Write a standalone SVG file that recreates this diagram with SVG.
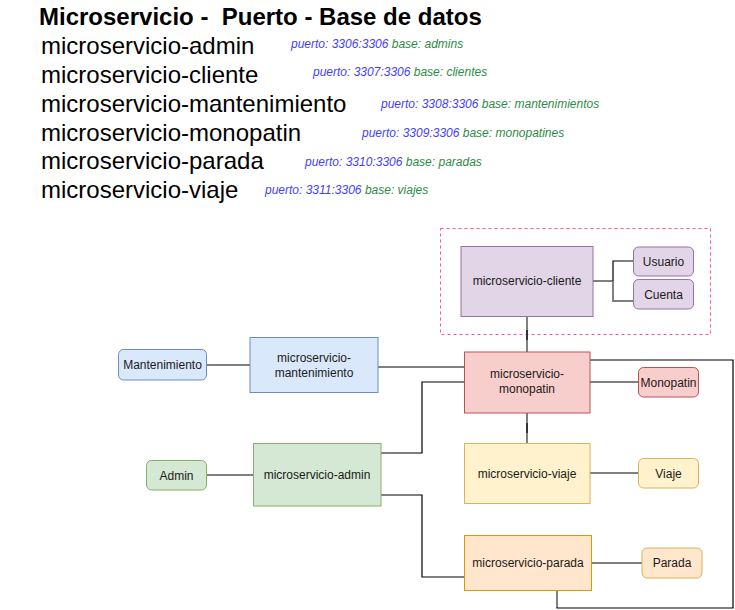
<svg xmlns="http://www.w3.org/2000/svg" width="735" height="610" viewBox="0 0 735 610">
<style>
  text { font-family: "Liberation Sans", Arial, Helvetica, sans-serif; }
  .title { font-size: 24px; font-weight: bold; fill: #000; white-space: pre; }
  .item { font-size: 24px; fill: #000; }
  .note { font-size: 12px; font-style: italic; }
  .pt { fill: #3f3fff; }
  .db { fill: #2e8b46; }
  .lbl { font-size: 12px; fill: #1a1a1a; text-anchor: middle; }
  .ent { font-size: 12px; fill: #1a1a1a; text-anchor: middle; }
  .gray { fill: none; stroke: #808080; stroke-width: 2; }
  .blk { fill: none; stroke: #000; stroke-width: 1.2; }
</style>
<rect width="735" height="610" fill="#ffffff"/>

<g id="legend">
  <text class="title" x="39" y="25" xml:space="preserve">Microservicio -  Puerto - Base de datos</text>
  <text class="item" x="41" y="54">microservicio-admin</text>
  <text class="item" x="41" y="83">microservicio-cliente</text>
  <text class="item" x="41" y="112">microservicio-mantenimiento</text>
  <text class="item" x="41" y="141">microservicio-monopatin</text>
  <text class="item" x="41" y="169">microservicio-parada</text>
  <text class="item" x="41" y="198">microservicio-viaje</text>
  <text class="note" x="291" y="48"><tspan class="pt">puerto: 3306:3306</tspan> <tspan class="db">base: admins</tspan></text>
  <text class="note" x="313" y="76"><tspan class="pt">puerto: 3307:3306</tspan> <tspan class="db">base: clientes</tspan></text>
  <text class="note" x="381" y="108"><tspan class="pt">puerto: 3308:3306</tspan> <tspan class="db">base: mantenimientos</tspan></text>
  <text class="note" x="362" y="137"><tspan class="pt">puerto: 3309:3306</tspan> <tspan class="db">base: monopatines</tspan></text>
  <text class="note" x="305" y="166"><tspan class="pt">puerto: 3310:3306</tspan> <tspan class="db">base: paradas</tspan></text>
  <text class="note" x="265" y="194"><tspan class="pt">puerto: 3311:3306</tspan> <tspan class="db">base: viajes</tspan></text>
</g>

<g id="cliente-group">
  <rect x="440.5" y="228.5" width="270" height="106" fill="none" stroke="#ff4fa7" stroke-dasharray="3 3"/>
</g>

<g id="connectors">
  <!-- cliente to Usuario / Cuenta -->
  <path class="blk" d="M593 281 H613 V261 H633"/>
  <path class="gray" d="M613 281 V301 H633"/>
  <!-- cliente to monopatin -->
  <path class="gray" d="M527 317 V352"/>
  <path class="blk" d="M527 330 V340"/>
  <!-- mantenimiento -->
  <path class="gray" d="M207 365 H250"/>
  <path class="gray" d="M378 367 H464"/>
  <!-- admin -->
  <path class="gray" d="M207 475 H253"/>
  <path class="blk" d="M381 453 H422 V382 H464"/>
  <path class="blk" d="M381 495 H422 V577 H464"/>
  <!-- monopatin -->
  <path class="blk" d="M590 382 H638"/>
  <path class="gray" d="M527 413 V443"/>
  <path class="blk" d="M527 423 V433" stroke-width="2"/>
  <path class="blk" d="M590 360 H733 V608 H557 V590"/>
  <path class="gray" d="M557 590 V607"/>
  <!-- viaje -->
  <path class="blk" d="M590 473 H638"/>
  <!-- parada -->
  <path class="gray" d="M592 563 H642"/>
</g>

<g id="microservicio-cliente">
  <rect x="461" y="246.5" width="132" height="70" fill="#e1d5e7" stroke="#9673a6"/>
  <text class="lbl" x="527" y="285">microservicio-cliente</text>
</g>
<g id="usuario">
  <rect x="633.5" y="247" width="60" height="29" rx="5" fill="#e1d5e7" stroke="#9673a6"/>
  <text class="ent" x="663.5" y="265.5">Usuario</text>
</g>
<g id="cuenta">
  <rect x="633.5" y="279.5" width="60" height="29.5" rx="5" fill="#e1d5e7" stroke="#9673a6"/>
  <text class="ent" x="663.5" y="298.5">Cuenta</text>
</g>

<g id="microservicio-mantenimiento">
  <rect x="250" y="337.5" width="128" height="55" fill="#dae8fc" stroke="#6c8ebf"/>
  <text class="lbl" x="314" y="362">microservicio-</text>
  <text class="lbl" x="314" y="377">mantenimiento</text>
</g>
<g id="mantenimiento">
  <rect x="118.5" y="349.5" width="88" height="30.5" rx="5" fill="#dae8fc" stroke="#6c8ebf"/>
  <text class="ent" x="162.5" y="369">Mantenimiento</text>
</g>

<g id="microservicio-monopatin">
  <rect x="464.5" y="352" width="125.5" height="61" fill="#f8cecc" stroke="#b85450"/>
  <text class="lbl" x="527" y="378">microservicio-</text>
  <text class="lbl" x="527" y="393">monopatin</text>
</g>
<g id="monopatin">
  <rect x="638.5" y="367.5" width="60" height="29.5" rx="5" fill="#f8cecc" stroke="#b85450"/>
  <text class="ent" x="668.5" y="386.5">Monopatin</text>
</g>

<g id="microservicio-admin">
  <rect x="253.5" y="443.5" width="127.5" height="62.5" fill="#d5e8d4" stroke="#82b366"/>
  <text class="lbl" x="317" y="479">microservicio-admin</text>
</g>
<g id="admin">
  <rect x="146.5" y="460.5" width="60" height="29.5" rx="5" fill="#d5e8d4" stroke="#82b366"/>
  <text class="ent" x="176.5" y="479.5">Admin</text>
</g>

<g id="microservicio-viaje">
  <rect x="464.5" y="443.5" width="125.5" height="60" fill="#fff2cc" stroke="#d6b656"/>
  <text class="lbl" x="527" y="477.5">microservicio-viaje</text>
</g>
<g id="viaje">
  <rect x="638.5" y="458.5" width="60" height="29.5" rx="5" fill="#fff2cc" stroke="#d6b656"/>
  <text class="ent" x="668.5" y="477.5">Viaje</text>
</g>

<g id="microservicio-parada">
  <rect x="464.5" y="535.5" width="127" height="55" fill="#ffe6cc" stroke="#d79b00"/>
  <text class="lbl" x="528" y="567">microservicio-parada</text>
</g>
<g id="parada">
  <rect x="642" y="548" width="60" height="30" rx="5" fill="#ffe6cc" stroke="#d6b656"/>
  <text class="ent" x="672" y="567">Parada</text>
</g>
</svg>
